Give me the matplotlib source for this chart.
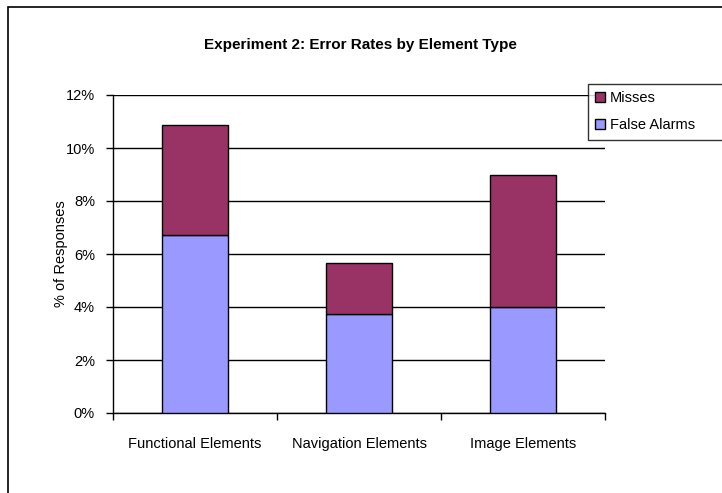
import matplotlib
matplotlib.use("Agg")
import matplotlib.pyplot as plt
import numpy as np
from matplotlib.patches import Rectangle
from matplotlib.ticker import FuncFormatter

plt.rcParams['font.family'] = ['Liberation Sans', 'DejaVu Sans']

# error rates (% of responses) per element type
categories = ["Functional Elements", "Navigation Elements", "Image Elements"]
false_alarms = [6.7, 3.75, 4.0]
misses = [4.15, 1.9, 5.0]
yticks = [0, 2, 4, 6, 8, 10, 12]

plum = "#993366"
periwinkle = "#9999FF"

W, H = 722, 493
fig = plt.figure(figsize=(W / 100, H / 100), dpi=100)
fig.patch.set_facecolor("white")

# plot area in pixel terms
left, right, top, bottom = 113, 605, 95, 413
ax = fig.add_axes([left / W, 1 - bottom / H, (right - left) / W, (bottom - top) / H])

x = np.arange(1, len(categories) + 1)
bw = 0.4
b1 = ax.bar(x, false_alarms, bw, color=periwinkle, edgecolor="black", linewidth=1.0,
            label="False Alarms", zorder=3)
b2 = ax.bar(x, misses, bw, bottom=false_alarms, color=plum, edgecolor="black",
            linewidth=1.0, label="Misses", zorder=3)

ax.set_xlim(0.5, 3.5)
ax.set_ylim(0, 12)
ax.set_yticks(yticks)
ax.yaxis.set_major_formatter(FuncFormatter(lambda v, p: f"{v:.0f}%"))
ax.yaxis.grid(True, color="black", linewidth=1.0, zorder=1)
ax.set_axisbelow(True)

# category boundaries as ticks, names centred between them
ax.set_xticks([0.5, 1.5, 2.5, 3.5])
ax.set_xticklabels([])
ax.set_xticks(x, minor=True)
ax.set_xticklabels(categories, minor=True, fontsize=10.5)
ax.tick_params(axis="x", which="major", direction="out", length=5, width=1)
ax.tick_params(axis="x", which="minor", length=0, pad=17)
ax.tick_params(axis="y", direction="out", length=5, width=1, pad=8, labelsize=10.5)

for s in ["top", "right"]:
    ax.spines[s].set_visible(False)
for s in ["left", "bottom"]:
    ax.spines[s].set_linewidth(1.0)
    ax.spines[s].set_color("black")

ax.set_ylabel("% of Responses", fontsize=10.5)
ax.yaxis.set_label_coords((68 - left) / (right - left), 0.5)

fig.text(360 / W, 1 - 45 / H, "Experiment 2: Error Rates by Element Type",
         ha="center", va="center", fontsize=11, fontweight="bold")

leg = fig.legend([b2, b1], ["Misses", "False Alarms"], loc="upper left",
                 bbox_to_anchor=(588 / W, 1 - 136 / H, 150 / W, 52 / H), mode="expand",
                 fontsize=10.5, frameon=True, fancybox=False, handlelength=0.65,
                 handleheight=0.65, handletextpad=0.35, borderaxespad=0,
                 labelspacing=0.9, borderpad=0.5)
leg.get_frame().set_edgecolor("black")
leg.get_frame().set_linewidth(1.0)
leg.set_zorder(5)

# outer chart frame
fig.add_artist(Rectangle((8 / W, -0.1), 1.2, 1 - 7 / H + 0.1, transform=fig.transFigure,
                         fill=False, edgecolor="black", linewidth=1.2, clip_on=False))

fig.savefig("out.png", dpi=100)
